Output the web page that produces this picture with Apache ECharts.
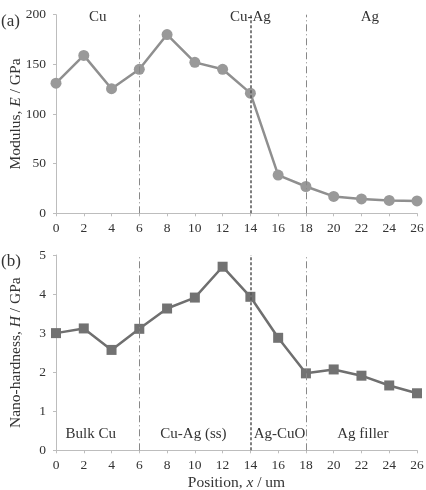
<!DOCTYPE html>
<html>
<head>
<meta charset="utf-8">
<script src="https://cdn.jsdelivr.net/npm/echarts@6/dist/echarts.min.js"></script>
<style>
  html, body { margin: 0; padding: 0; background: #fff; }
  #main { width: 426px; height: 490px; }
</style>
</head>
<body>
<div id="main"></div>
<script>
// position along the joint, um
const positions = [0, 2, 4, 6, 8, 10, 12, 14, 16, 18, 20, 22, 24, 26]
// elastic modulus, GPa
const modulus = [131, 159, 125.5, 145, 180, 152, 145, 121, 38.5, 27, 17, 14.5, 13, 12.5]
// nano-hardness, GPa
const hardness = [3.0, 3.12, 2.57, 3.11, 3.63, 3.91, 4.70, 3.93, 2.88, 1.97, 2.07, 1.91, 1.66, 1.46]
// boundaries between zones
const boundaries = [6, 14, 18]
// zone labels [name, x, y]
const topZones = [['Cu', 3, 198], ['Cu-Ag', 14, 198], ['Ag', 22.6, 198]]
const bottomZones = [['Bulk Cu', 2.5, 0.42], ['Cu-Ag (ss)', 9.9, 0.42], ['Ag-CuO', 16.1, 0.42], ['Ag filler', 22.1, 0.42]]

const font = 'Liberation Serif'
const axisGrey = '#bdbdbd'
const textGrey = '#333'

const chart = echarts.init(document.getElementById('main'))

function xAxis(idx) {
  return {
    type: 'value', gridIndex: idx, min: 0, max: 26, interval: 2,
    axisLine: { lineStyle: { color: axisGrey, width: 1 } },
    axisTick: { show: true, length: 3, lineStyle: { color: axisGrey } },
    axisLabel: { color: textGrey, fontFamily: font, fontSize: 13.5, margin: 8 },
    splitLine: { show: false },
    name: idx === 1 ? '{n|Position, }{i|x}{n| / um}' : '',
    nameLocation: 'middle', nameGap: 25, nameMoveOverlap: false,
    nameTextStyle: {
      rich: {
        n: { fontFamily: font, fontSize: 15.5, color: textGrey },
        i: { fontFamily: font, fontSize: 15.5, color: textGrey, fontStyle: 'italic' }
      }
    }
  }
}

function yAxis(idx, max, interval, pre, it) {
  return {
    type: 'value', gridIndex: idx, min: 0, max: max, interval: interval,
    axisLine: { show: true, lineStyle: { color: axisGrey, width: 1 } },
    axisTick: { show: true, length: 3, lineStyle: { color: axisGrey } },
    axisLabel: { color: textGrey, fontFamily: font, fontSize: 13.5, margin: 10 },
    splitLine: { show: false },
    name: '{n|' + pre + '}{i|' + it + '}{n| / GPa}',
    nameLocation: 'middle', nameRotate: 90, nameGap: 32, nameMoveOverlap: false,
    nameTextStyle: {
      rich: {
        n: { fontFamily: font, fontSize: 15.5, color: textGrey },
        i: { fontFamily: font, fontSize: 15.5, color: textGrey, fontStyle: 'italic' }
      }
    }
  }
}

function lines() {
  return {
    silent: true, symbol: 'none', label: { show: false },
    data: boundaries.map(b => ({
      xAxis: b,
      lineStyle: b === 14
        ? { color: '#555', width: 1.5, type: [3, 2] }
        : { color: '#888', width: 1, type: [7, 3, 1, 3] }
    }))
  }
}

function zoneLabels(list) {
  return {
    silent: true, symbol: 'circle', symbolSize: 1,
    itemStyle: { color: 'rgba(0,0,0,0)' },
    label: { show: true, position: 'inside', fontFamily: font, fontSize: 15, color: textGrey,
      formatter: p => p.name },
    data: list.map(z => ({ name: z[0], coord: [z[1], z[2]] }))
  }
}

chart.setOption({
  animation: false,
  grid: [
    { left: 56, right: 9, top: 14.7, height: 198.6, outerBoundsMode: 'none', containLabel: false },
    { left: 56, right: 9, top: 255, height: 195.3, outerBoundsMode: 'none', containLabel: false }
  ],
  xAxis: [xAxis(0), xAxis(1)],
  yAxis: [yAxis(0, 200, 50, 'Modulus, ', 'E'), yAxis(1, 5, 1, 'Nano-hardness, ', 'H')],
  graphic: [
    { type: 'text', left: 1, top: 13, style: { text: '(a)', font: '17px ' + font, fill: textGrey } },
    { type: 'text', left: 1, top: 253, style: { text: '(b)', font: '17px ' + font, fill: textGrey } }
  ],
  series: [
    {
      type: 'line', xAxisIndex: 0, yAxisIndex: 0,
      data: positions.map((x, i) => [x, modulus[i]]),
      symbol: 'circle', symbolSize: 11,
      itemStyle: { color: '#999' },
      lineStyle: { color: '#8f8f8f', width: 2.5 },
      markLine: lines(),
      markPoint: zoneLabels(topZones),
      z: 3
    },
    {
      type: 'line', xAxisIndex: 1, yAxisIndex: 1,
      data: positions.map((x, i) => [x, hardness[i]]),
      symbol: 'rect', symbolSize: 10,
      itemStyle: { color: '#727272' },
      lineStyle: { color: '#6f6f6f', width: 2.5 },
      markLine: lines(),
      markPoint: zoneLabels(bottomZones),
      z: 3
    }
  ]
})
</script>
</body>
</html>
